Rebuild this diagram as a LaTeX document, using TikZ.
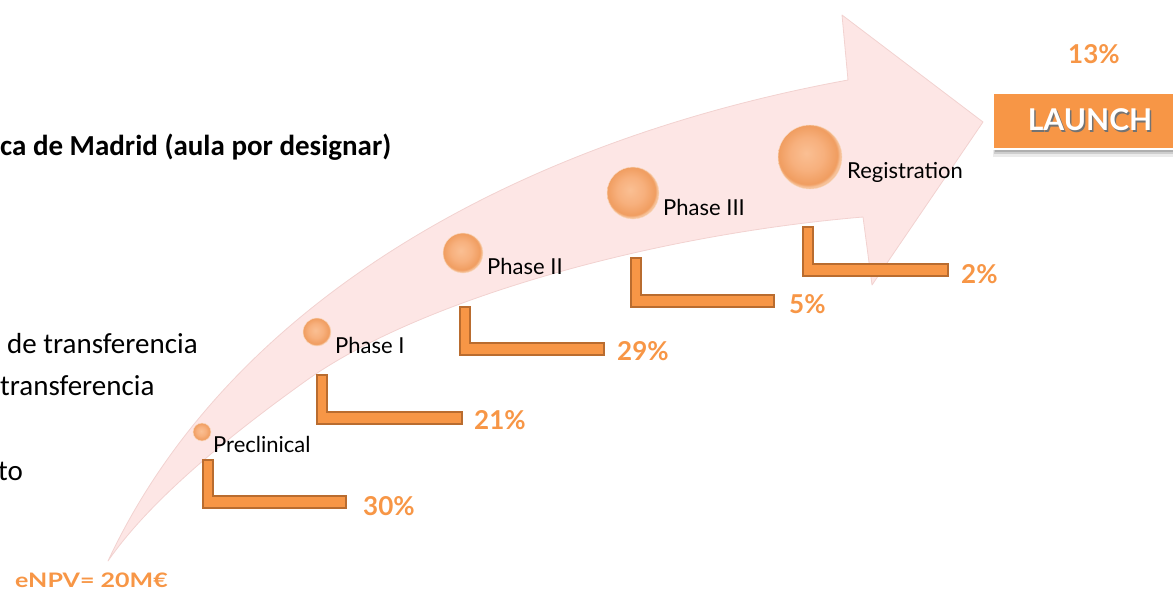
\documentclass[tikz,border=0pt]{standalone}
\usepackage{fontspec}
\setmainfont{Lato}
\newfontfamily\calfont{Carlito}
\definecolor{orng}{HTML}{F79646}
\definecolor{orngdk}{HTML}{B96C2F}
\definecolor{pinkfill}{HTML}{FDE6E5}
\definecolor{pinklight}{HTML}{FEF1F0}
\definecolor{pinkline}{HTML}{F2D2D0}
\definecolor{sphA}{HTML}{FABF93}
\definecolor{sphAB}{HTML}{F7B07D}
\definecolor{sphB}{HTML}{F09D60}
\definecolor{sphC}{HTML}{F6C29A}
\pgfdeclareradialshading{sphere}{\pgfpoint{-3bp}{3bp}}{color(0bp)=(sphA); color(13bp)=(sphAB); color(23bp)=(sphB); color(25bp)=(sphC); color(50bp)=(sphC)}
\tikzset{
  arrowbody/.style={fill=pinkfill, draw=pinkline, line width=0.8pt, line join=round},
  bracketshape/.style={fill=orng, draw=orngdk, line width=1.4pt, line join=miter},
  ball/.style={circle, shading=sphere, draw=sphC!60!white, line width=0.4pt, inner sep=0pt},
  lbl/.style={anchor=base west, inner sep=0pt, font=\fontsize{22}{26}\selectfont, text=black},
  pct/.style={anchor=base west, inner sep=0pt, font=\fontsize{26}{30}\selectfont\bfseries, text=orng},
  lefttxt/.style={anchor=base west, inner sep=0pt, font=\calfont\fontsize{29}{34}\selectfont, text=black},
}
\begin{document}
\begin{tikzpicture}[x=1pt, y=-1pt]
\useasboundingbox (0,0) rectangle (1173,592);
% big curved arrow
\path[arrowbody] (108,561) .. controls (230,300) and (520,140) .. (848,80)
  -- (842,15) -- (983,122) -- (872,285) -- (863,217)
  .. controls (650,235) and (420,300) .. (307,380)
  .. controls (230,435) and (150,500) .. (108,561) -- cycle;
% left text
\node[lefttxt, font=\calfont\fontsize{29}{34}\selectfont\bfseries] (t1) at (0,155) {ca de Madrid (aula por designar)};
\node[lefttxt] (t2) at (7,353) {de transferencia};
\node[lefttxt] (t3) at (0,395) {transferencia};
\node[lefttxt] (t4) at (-2,480) {to};
% spheres
\node[ball, minimum size=18pt] (b0) at (202,432) {};
\node[ball, minimum size=28pt] (b1) at (317,332) {};
\node[ball, minimum size=40pt] (b2) at (463,253) {};
\node[ball, minimum size=52pt] (b3) at (633,193) {};
\node[ball, minimum size=64pt] (b4) at (810,157) {};
% labels
\node[lbl] (l0) at (213,452) {Preclinical};
\node[lbl] (l1) at (335,353) {Phase I};
\node[lbl] (l2) at (487,274) {Phase II};
\node[lbl] (l3) at (663,215) {Phase III};
\node[lbl] (l4) at (847,178) {Registration};
% brackets
\path[bracketshape] (203,460) -- (213,460) -- (213,496) -- (346,496) -- (346,508) -- (203,508) -- cycle;
\path[bracketshape] (317,375) -- (327,375) -- (327,412) -- (462,412) -- (462,424) -- (317,424) -- cycle;
\path[bracketshape] (460,307) -- (470,307) -- (470,343) -- (604,343) -- (604,355) -- (460,355) -- cycle;
\path[bracketshape] (631,258) -- (641,258) -- (641,295) -- (774,295) -- (774,307) -- (631,307) -- cycle;
\path[bracketshape] (803,227) -- (813,227) -- (813,264) -- (948,264) -- (948,276) -- (803,276) -- cycle;
% percentages
\node[pct] (p0) at (363,515) {30\%};
\node[pct] (p1) at (474,429) {21\%};
\node[pct] (p2) at (617,360) {29\%};
\node[pct] (p3) at (789,313) {5\%};
\node[pct] (p4) at (961,283) {2\%};
\node[pct] (p5) at (1068,63) {13\%};
% launch box
\fill[black, opacity=0.08] (993,97) rectangle (1180,157);
\fill[black, opacity=0.12] (994,97) rectangle (1180,154);
\fill[black, opacity=0.15] (995,97) rectangle (1180,152);
\path[fill=orng, draw=white, line width=1.5pt] (993,93) rectangle (1180,149);
\node[anchor=center, inner sep=0pt, font=\fontsize{30}{34}\selectfont\bfseries, text=black!55] (ls) at (1091.5,121.5) {LAUNCH};
\node[anchor=center, inner sep=0pt, font=\fontsize{30}{34}\selectfont\bfseries, text=white] (launch) at (1090,120) {LAUNCH};
% eNPV
\node[anchor=base west, inner sep=0pt, text=orng, font=\fontsize{20}{24}\selectfont\bfseries] (npv) at (15,587) {\scalebox{1.25}[1]{eNPV= 20M€}};
\end{tikzpicture}
\end{document}
